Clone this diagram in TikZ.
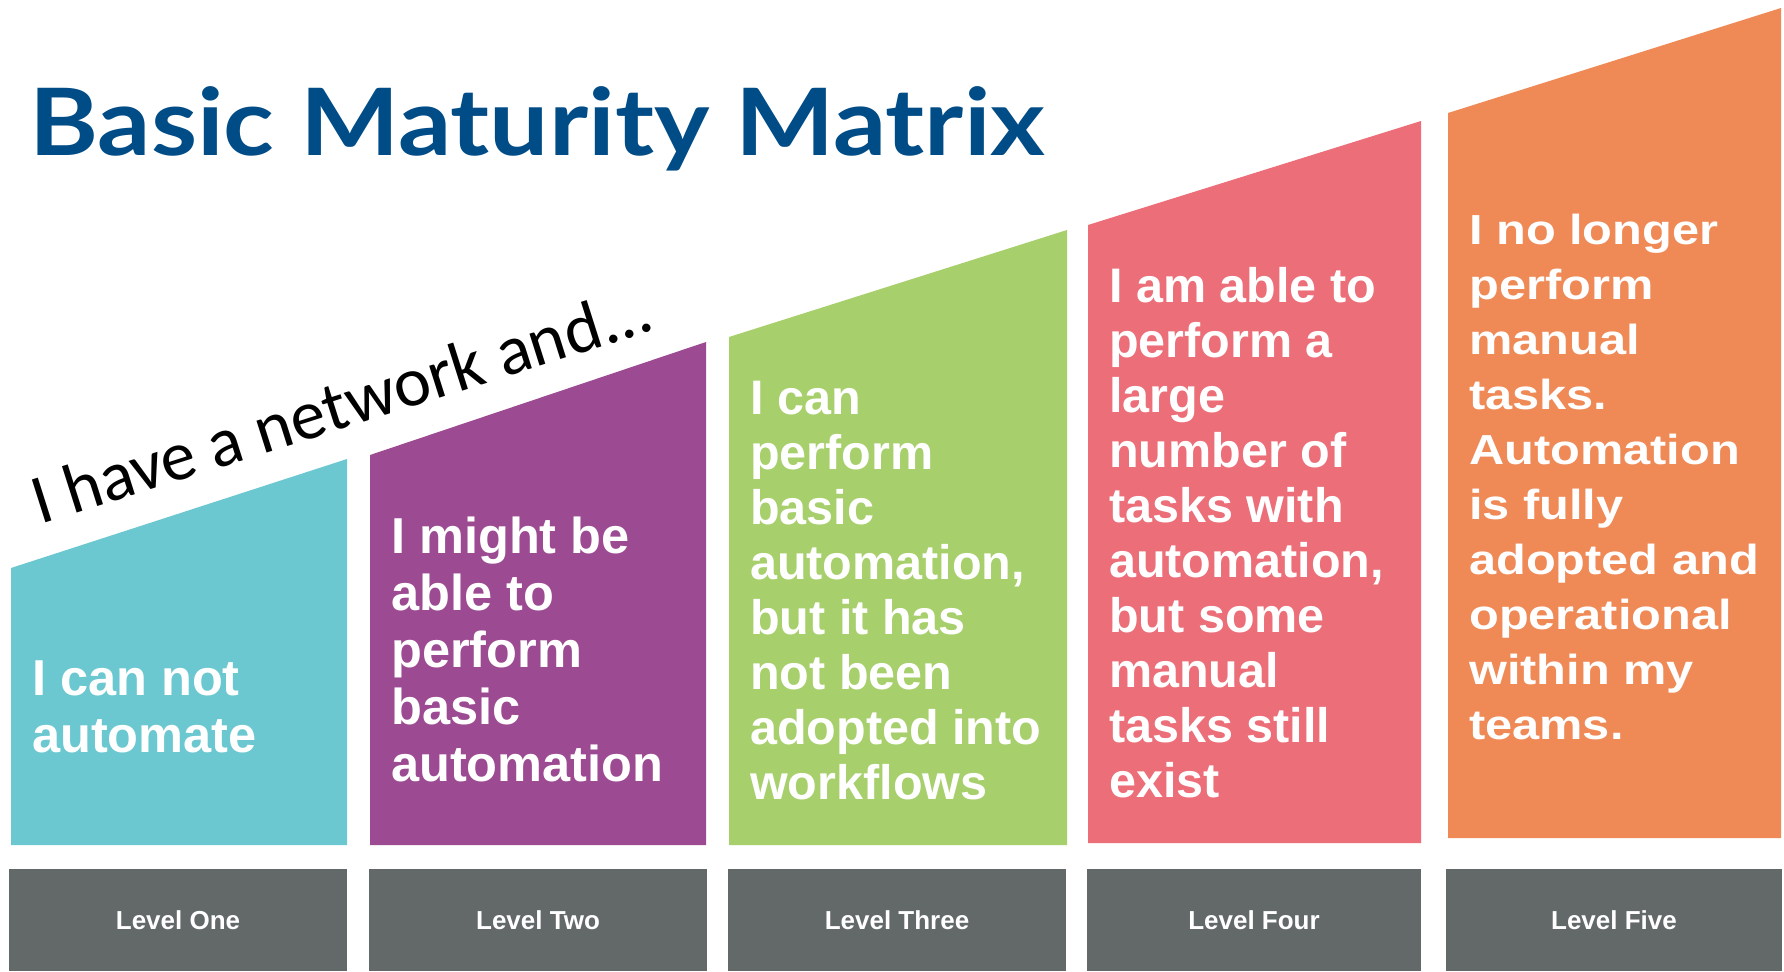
\documentclass[tikz,border=0pt]{standalone}
\usepackage{fontspec}
\setmainfont{Liberation Sans}
\newfontfamily\titlefont{Lato}
\newfontfamily\slopefont{Carlito}

\definecolor{titleblue}{RGB}{0,76,135}
\definecolor{lvlone}{RGB}{108,200,208}
\definecolor{lvltwo}{RGB}{156,74,145}
\definecolor{lvlthree}{RGB}{167,207,107}
\definecolor{lvlfour}{RGB}{235,110,120}
\definecolor{lvlfive}{RGB}{239,137,86}
\definecolor{lvlgrey}{RGB}{99,104,105}

\tikzset{
every picture/.style={
x=1pt, y=-1pt
},
stagetext/.style 2 args={inner sep=0pt, anchor=base west, align=left, text=white,
  font=\bfseries\fontsize{#1}{#2}\selectfont},
levelbox/.style={fill=lvlgrey, inner sep=0pt, minimum height=102pt, text=white,
  font=\bfseries\fontsize{26}{30}\selectfont}
}

\begin{document}
\begin{tikzpicture}
  \useasboundingbox[fill=white] (0,0) rectangle (1784,971);

  % the five steps
  \foreach \col/\xa/\xb/\ya/\yb/\yc in {lvlone/11/347/568/459/845,
      lvltwo/370/706/455/342/845, lvlthree/729/1067/337/230/845,
      lvlfour/1088/1421/225/121/843, lvlfive/1448/1781/113/8/838}{
    \fill[\col] (\xa,\ya) -- (\xb,\yb) -- (\xb,\yc) -- (\xa,\yc) -- cycle;
  }

  \node[anchor=base west, inner sep=0pt, text=titleblue, xscale=1.13,
    font=\titlefont\bfseries\fontsize{93}{100}\selectfont] (title) at (29,155) {Basic Maturity Matrix};
  \node[anchor=base west, inner sep=0pt, rotate=17.6,
    font=\slopefont\fontsize{70}{80}\selectfont] (network) at (40,525) {I have a network and...};

  % texts sit on the baseline of their last line
  \node[stagetext={50.5}{57}] (one) at (32,752) {I can not\\automate};
  \node[stagetext={50.5}{57}] (two) at (391,781) {I might be\\able to\\perform\\basic\\automation};
  \node[stagetext={48.5}{55}] (three) at (750,799) {I can\\perform\\basic\\automation,\\but it has\\not been\\adopted into\\workflows};
  \node[stagetext={48.5}{55}] (four) at (1109,797) {I am able to\\perform a\\large\\number of\\tasks with\\automation,\\but some\\manual\\tasks still\\exist};
  \node[stagetext={42}{55}, xscale=1.16] (five) at (1469,739) {I no longer\\perform\\manual\\tasks.\\Automation\\is fully\\adopted and\\operational\\within my\\teams.};

  % level labels
  \foreach \name/\xa/\xb/\txt in {lone/9/347/Level One, ltwo/369/707/Level Two,
      lthree/728/1066/Level Three, lfour/1087/1421/Level Four, lfive/1446/1782/Level Five}{
    \node[levelbox, minimum width=\xb pt-\xa pt] (\name) at ({(\xa+\xb)/2},920) {\txt};
  }
\end{tikzpicture}
\end{document}
